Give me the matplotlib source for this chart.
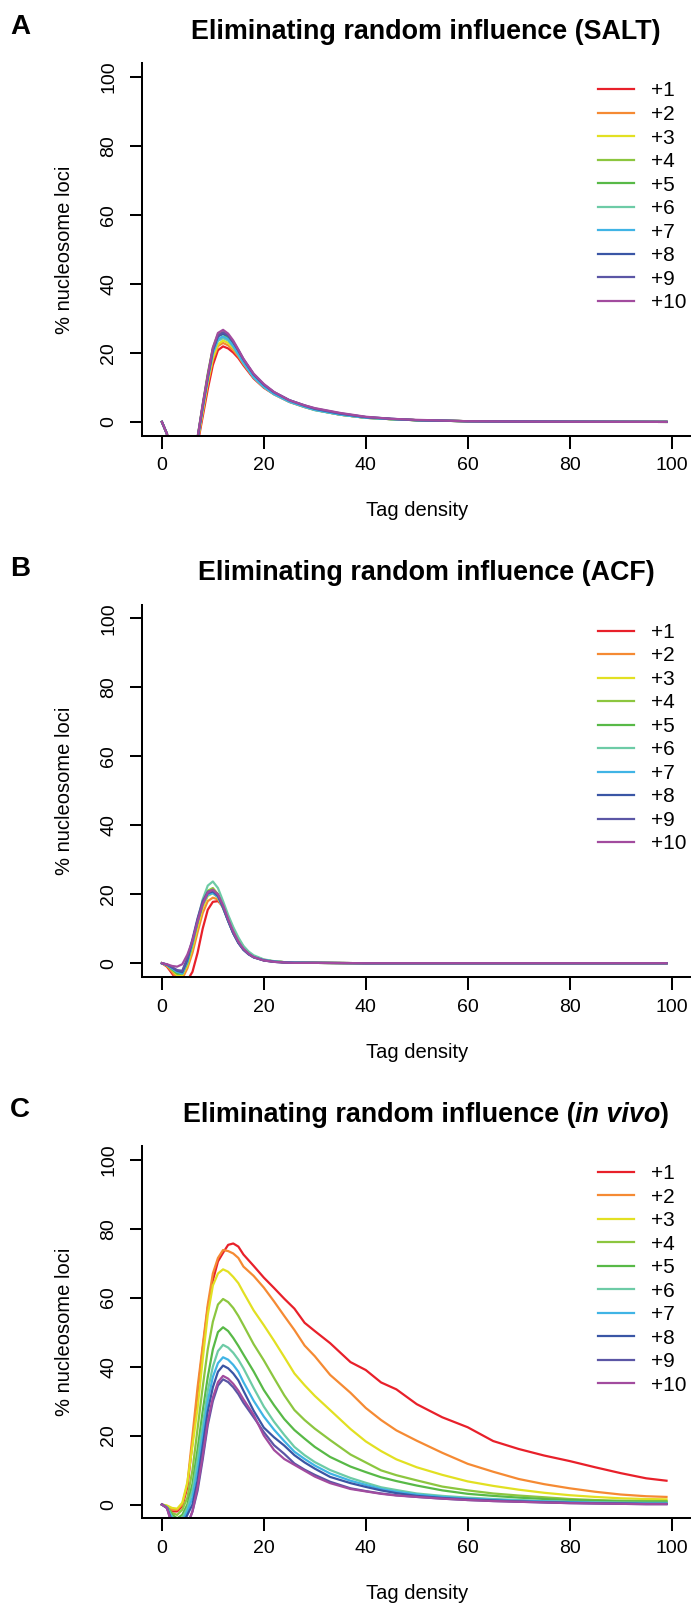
import matplotlib
matplotlib.use('Agg')
import matplotlib.pyplot as plt

plt.rcParams['font.family'] = ['Liberation Sans', 'DejaVu Sans']

# ---------------- data ----------------
series_labels = ['+1', '+2', '+3', '+4', '+5', '+6', '+7', '+8', '+9', '+10']
series_colors = ['#E8202A', '#F58A33', '#E2E022', '#8CC63F', '#58B947',
                 '#6DCBA6', '#40B4E5', '#3A56A5', '#5B56A5', '#A24B9E']

x_ticks = [0, 20, 40, 60, 80, 100]
y_ticks = [0, 20, 40, 60, 80, 100]

# Panel A (SALT)
xA = [0, 1, 2, 3, 4, 5, 6, 7, 8, 9, 10, 11, 12, 13, 14, 15, 16, 18, 20, 22, 25, 28, 30, 35, 40, 45, 50, 60, 70, 80, 99]
salt_p1 = [0, -3.5, -30, -30, -30, -30, -30, -6.5, 1.5, 9.5, 16.5, 20.8, 21.9, 21.3, 20.1, 18.5, 16.4, 12.6, 9.9, 8.0, 5.8, 4.3, 3.5, 2.1, 1.2, 0.8, 0.5, 0.2, 0.1, 0.05, 0]
salt_p2 = [0, -3.5, -30, -30, -30, -30, -30, -6, 2.5, 11, 18, 22, 22.9, 22.2, 20.8, 19, 16.8, 12.9, 10.1, 8.1, 5.9, 4.4, 3.5, 2.1, 1.2, 0.8, 0.5, 0.2, 0.1, 0.05, 0]
salt_p3 = [0, -3.5, -30, -30, -30, -30, -30, -5.5, 3, 11.5, 18.5, 22.5, 23.6, 22.9, 21.4, 19.5, 17.2, 13.1, 10.2, 8.2, 6.0, 4.4, 3.5, 2.1, 1.2, 0.8, 0.5, 0.2, 0.1, 0.05, 0]
salt_p4 = [0, -3.5, -30, -30, -30, -30, -30, -4.5, 5, 14, 21.5, 25.5, 26, 24.8, 22.8, 20.3, 17.8, 13.4, 10.4, 8.3, 6.0, 4.5, 3.6, 2.2, 1.3, 0.8, 0.5, 0.2, 0.1, 0.05, 0]
salt_p5 = [0, -3.5, -30, -30, -30, -30, -30, -4.5, 4.5, 13.5, 21, 25, 25.5, 24.5, 22.6, 20.2, 17.8, 13.5, 10.5, 8.4, 6.1, 4.6, 3.7, 2.3, 1.3, 0.8, 0.5, 0.2, 0.1, 0.05, 0]
salt_p6 = [0, -3.5, -30, -30, -30, -30, -30, -5, 4, 12.5, 19.8, 23.5, 24.3, 23.6, 21.8, 19.4, 17, 12.9, 10.1, 8.0, 5.8, 4.3, 3.4, 2.1, 1.2, 0.8, 0.5, 0.2, 0.1, 0.05, 0]
salt_p7 = [0, -3.5, -30, -30, -30, -30, -30, -5, 4, 12.5, 20, 24, 24.8, 24, 22, 19.6, 17.2, 13, 10.2, 8.1, 5.9, 4.4, 3.5, 2.1, 1.2, 0.8, 0.5, 0.2, 0.1, 0.05, 0]
salt_p8 = [0, -3.5, -30, -30, -30, -30, -30, -4.8, 4.5, 13, 20.8, 24.8, 25.6, 25, 23.1, 20.7, 18.1, 13.8, 10.8, 8.6, 6.3, 4.7, 3.8, 2.4, 1.4, 0.9, 0.5, 0.2, 0.1, 0.05, 0]
salt_p9 = [0, -3.5, -30, -30, -30, -30, -30, -4.8, 4.5, 13, 21, 25, 26, 25.1, 23.2, 20.8, 18.2, 13.8, 10.8, 8.6, 6.3, 4.8, 3.9, 2.5, 1.4, 0.9, 0.5, 0.2, 0.1, 0.05, 0]
salt_p10 = [0, -3.5, -30, -30, -30, -30, -30, -4.5, 5, 13.5, 21.5, 25.8, 26.7, 25.6, 23.6, 21, 18.3, 14, 11, 8.7, 6.3, 4.8, 4, 2.6, 1.5, 0.9, 0.6, 0.2, 0.1, 0.05, 0]

# Panel B (ACF)
xB = [0, 1, 2, 3, 4, 5, 6, 7, 8, 9, 10, 11, 12, 13, 14, 15, 16, 17, 18, 20, 22, 24, 26, 30, 40, 60, 80, 99]
acf_p1 = [0, -1, -3, -5, -6, -5, -2.5, 3, 10, 15.5, 17.8, 18, 16.5, 13.5, 10, 7, 4.8, 3.2, 2, 1, 0.5, 0.3, 0.2, 0.1, 0, 0, 0, 0]
acf_p2 = [0, -0.8, -2.5, -4.5, -4.5, -1.5, 3, 9, 14.5, 18, 19, 18.5, 16, 12.5, 9, 6.3, 4.3, 2.9, 1.9, 0.9, 0.5, 0.3, 0.2, 0.1, 0, 0, 0, 0]
acf_p3 = [0, -0.6, -2, -3.5, -3.5, -0.5, 4.5, 10.5, 16, 19.5, 20.3, 19, 16, 12.3, 8.8, 6.1, 4.1, 2.8, 1.8, 0.9, 0.5, 0.3, 0.2, 0.1, 0, 0, 0, 0]
acf_p4 = [0, -0.5, -1.8, -3, -3, 0, 5.5, 12, 17.5, 21, 21.8, 20, 16.5, 12.5, 8.9, 6.1, 4.1, 2.8, 1.8, 0.9, 0.5, 0.3, 0.2, 0.1, 0, 0, 0, 0]
acf_p5 = [0, -0.5, -1.8, -3, -3, 0.5, 6, 12, 17.5, 20.5, 21.2, 19.8, 16.5, 12.5, 8.8, 6, 4, 2.7, 1.8, 0.9, 0.5, 0.3, 0.2, 0.1, 0, 0, 0, 0]
acf_p6 = [0, -0.5, -1.5, -2.5, -2.5, 1, 6, 12.5, 18.5, 22.5, 23.7, 21.8, 18, 14, 10.5, 7.5, 5, 3.4, 2.3, 1.1, 0.6, 0.3, 0.2, 0.1, 0, 0, 0, 0]
acf_p7 = [0, -0.5, -1.5, -2.5, -3, 0.5, 6, 12, 17, 19.8, 20.3, 19.2, 16, 12.2, 8.7, 6, 4, 2.7, 1.8, 0.9, 0.5, 0.3, 0.2, 0.1, 0, 0, 0, 0]
acf_p8 = [0, -0.4, -1.2, -2.2, -2.6, 1, 6.5, 12.5, 17.5, 20.3, 20.8, 19.5, 16.2, 12.3, 8.7, 5.9, 3.9, 2.6, 1.7, 0.8, 0.4, 0.2, 0.1, 0.1, 0, 0, 0, 0]
acf_p9 = [0, -0.4, -1.2, -2, -2.2, 1.5, 7, 13, 18, 20.7, 21.2, 19.7, 16.3, 12.3, 8.7, 5.9, 3.9, 2.6, 1.7, 0.8, 0.4, 0.2, 0.1, 0.1, 0, 0, 0, 0]
acf_p10 = [0, -0.3, -0.8, -1, -0.3, 2.5, 6.5, 12, 17, 20.5, 21.3, 20, 16.8, 12.8, 9.2, 6.3, 4.2, 2.8, 1.8, 0.8, 0.4, 0.2, 0.1, 0.1, 0, 0, 0, 0]

# Panel C (in vivo)
xC = [0, 1, 2, 3, 4, 5, 6, 7, 8, 9, 10, 11, 12, 13, 14, 15, 16, 18, 20, 22, 24, 26, 28, 30, 33, 37, 40, 43, 46, 50, 55, 60, 65, 70, 75, 80, 85, 90, 95, 99]
vivo_p1 = [0, -0.5, -2, -2, -0.5, 5, 18, 32, 45, 57, 65, 70.5, 73, 75.3, 75.7, 74.8, 72.5,
           69.2, 65.8, 62.8, 59.7, 56.8, 52.7, 50.3, 46.8, 41.3, 39, 35.4, 33.4, 29.1, 25.3, 22.4, 18.4, 16.1, 14.2, 12.6, 10.8, 9.1, 7.6, 6.9]
vivo_p2 = [0, -0.5, -1.5, -1.5, 0, 6, 20, 34, 46, 58, 67, 71.5, 73.8, 73.5, 72.8, 71.5, 69,
           66.3, 62.9, 58.9, 54.7, 50.6, 46.1, 43, 37.6, 32.4, 28, 24.5, 21.5, 18.5, 15, 11.8, 9.5, 7.4, 5.9, 4.7, 3.7, 2.9, 2.4, 2.2]
vivo_p3 = [0, -0.3, -1, -1.2, 0.5, 6.5, 17, 28, 42, 55, 63.5, 67, 68.2, 67.5, 66, 64.2, 61.5,
           56.3, 52, 47.5, 42.8, 38, 34.6, 31.5, 27.4, 21.9, 18.3, 15.5, 13.1, 10.8, 8.6, 6.7, 5.4, 4.3, 3.4, 2.7, 2.2, 1.8, 1.6, 1.5]
vivo_p4 = [0, -0.7, -2.5, -3, -1.5, 2, 10, 22, 34, 45, 53, 58, 59.6, 58.7, 57, 54.7, 52,
           46.5, 41.8, 36.7, 31.7, 27.4, 24.5, 22, 18.7, 14.5, 12.2, 9.9, 8.5, 7, 5.2, 4.1, 3.2, 2.6, 2.1, 1.6, 1.3, 1.1, 1.0, 1.0]
vivo_p5 = [0, -0.8, -3, -4, -3, 0, 6, 16, 27, 37, 45, 50, 51.4, 50.3, 48.3, 46, 43.5,
           38.6, 33.2, 28.8, 24.8, 21.6, 19.1, 16.7, 13.8, 11, 9.4, 7.9, 6.8, 5.5, 4.1, 3.1, 2.5, 2, 1.6, 1.3, 1.1, 0.9, 0.8, 0.8]
vivo_p6 = [0, -0.8, -3.5, -5, -4, -1, 4, 13, 23, 33, 40, 44.5, 46.3, 45.5, 44, 42, 39.5,
           33.8, 28.4, 24, 20.2, 16.7, 14.3, 12.3, 10, 7.7, 6.3, 5, 4.2, 3.2, 2.5, 2, 1.6, 1.3, 1, 0.8, 0.7, 0.6, 0.5, 0.5]
vivo_p7 = [0, -1, -4, -6, -5, -2, 2, 10, 20, 30, 37, 41, 42.7, 42, 40.5, 38.5, 35.5,
           30.1, 25.5, 21.7, 18.4, 15.3, 13.2, 11.3, 9, 6.9, 5.7, 4.5, 3.7, 2.9, 2.2, 1.7, 1.4, 1.1, 0.9, 0.7, 0.5, 0.4, 0.3, 0.3]
vivo_p8 = [0, -1, -5, -7, -6, -3, 0, 7, 17, 27, 34, 38.5, 40.3, 39.5, 38, 36, 33,
           27.2, 22.3, 19.5, 17.1, 14.3, 12.2, 10.4, 8, 6.2, 5.1, 4.1, 3.3, 2.5, 1.9, 1.5, 1.2, 0.9, 0.7, 0.5, 0.4, 0.3, 0.2, 0.2]
vivo_p9 = [0, -1, -6, -9, -8, -6, -2, 4, 13, 23, 30, 34.5, 36.3, 35.5, 34, 32, 29.5,
           25.3, 21, 17.2, 14.7, 11.9, 10.1, 8.6, 6.6, 4.7, 3.9, 3.2, 2.7, 2.2, 1.7, 1.3, 1, 0.8, 0.6, 0.4, 0.3, 0.2, 0.1, 0.1]
vivo_p10 = [0, -1, -6, -9, -8, -6, -2, 5, 14, 24, 31, 35.5, 37.3, 36.5, 35, 33, 30.5,
            26, 20.0, 15.8, 13.2, 11.5, 9.8, 8.1, 6.2, 4.5, 3.8, 3.1, 2.6, 2.2, 1.7, 1.3, 1, 0.8, 0.6, 0.4, 0.3, 0.2, 0.1, 0.1]

panels = [
    ('A', xA, [salt_p1, salt_p2, salt_p3, salt_p4, salt_p5, salt_p6, salt_p7, salt_p8, salt_p9, salt_p10],
     [('Eliminating random influence (SALT)', 'normal')]),
    ('B', xB, [acf_p1, acf_p2, acf_p3, acf_p4, acf_p5, acf_p6, acf_p7, acf_p8, acf_p9, acf_p10],
     [('Eliminating random influence (ACF)', 'normal')]),
    ('C', xC, [vivo_p1, vivo_p2, vivo_p3, vivo_p4, vivo_p5, vivo_p6, vivo_p7, vivo_p8, vivo_p9, vivo_p10],
     [('Eliminating random influence (', 'normal'), ('in vivo', 'italic'), (')', 'normal')]),
]

# ---------------- layout (pixels) ----------------
W, H, DPI = 691, 1604, 100
STEP = 541.3
AX_L, AX_R = 141.5, 692.0
AX_T, AX_B = 63.3, 435.7
TICK_FS = 14
LAB_FS = 14.5
LEG_FS = 15
LW = 1.45

fig = plt.figure(figsize=(W / DPI, H / DPI), dpi=DPI)


def fy(py):
    return 1 - py / H


for k, (letter, xs, ys, title_parts) in enumerate(panels):
    o = STEP * k
    ax = fig.add_axes([AX_L / W, fy(AX_B + o), (AX_R - AX_L) / W, (AX_B - AX_T) / H])
    for yv, c, lab in zip(ys, series_colors, series_labels):
        ax.plot(xs, yv, color=c, lw=1.6, label=lab, solid_joinstyle='round')
    ax.set_xlim(-4, 104)
    ax.set_ylim(-4, 104)
    for s in ['top', 'right']:
        ax.spines[s].set_visible(False)
    for s in ['left', 'bottom']:
        ax.spines[s].set_linewidth(LW)
    ax.set_xticks(x_ticks)
    ax.set_yticks(y_ticks)
    ax.set_xticklabels([str(t) for t in x_ticks])
    ax.set_yticklabels([str(t) for t in y_ticks], rotation=90, va='center')
    ax.tick_params(direction='out', length=9, width=LW, labelsize=TICK_FS)
    ax.tick_params(axis='x', pad=6.5)
    ax.tick_params(axis='y', pad=8.5)
    ax.set_xlabel('Tag density', fontsize=LAB_FS)
    ax.xaxis.set_label_coords(0.5, -75 / (AX_B - AX_T))
    ax.xaxis.label.set_va('center')
    ax.set_ylabel('% nucleosome loci', fontsize=LAB_FS)
    ax.yaxis.set_label_coords((64.0 - AX_L) / (AX_R - AX_L), 0.5)
    ax.yaxis.label.set_va('center')

    ax.legend(loc='upper left', bbox_to_anchor=(598.3 / W, fy(81.5 + o)),
              bbox_transform=fig.transFigure, frameon=False, fontsize=LEG_FS,
              handlelength=1.71, handletextpad=0.8, labelspacing=0.217,
              borderpad=0, borderaxespad=0)

    # panel letter
    fig.text(20 / W, fy(34.5 + o), letter, ha='center', va='baseline',
             fontsize=20, fontweight='bold')

    # title (possibly mixed styles)
    texts = []
    for part, style in title_parts:
        t = fig.text(0, fy(39.0 + o), part, ha='left', va='baseline', fontsize=19.4,
                     fontweight='bold', fontstyle=style)
        texts.append(t)
    fig.canvas.draw()
    r = fig.canvas.get_renderer()
    widths = [t.get_window_extent(r).width for t in texts]
    total = sum(widths)
    x0 = 426 - total / 2
    for t, w in zip(texts, widths):
        t.set_x(x0 / W)
        x0 += w

fig.savefig('out.png', dpi=DPI)
